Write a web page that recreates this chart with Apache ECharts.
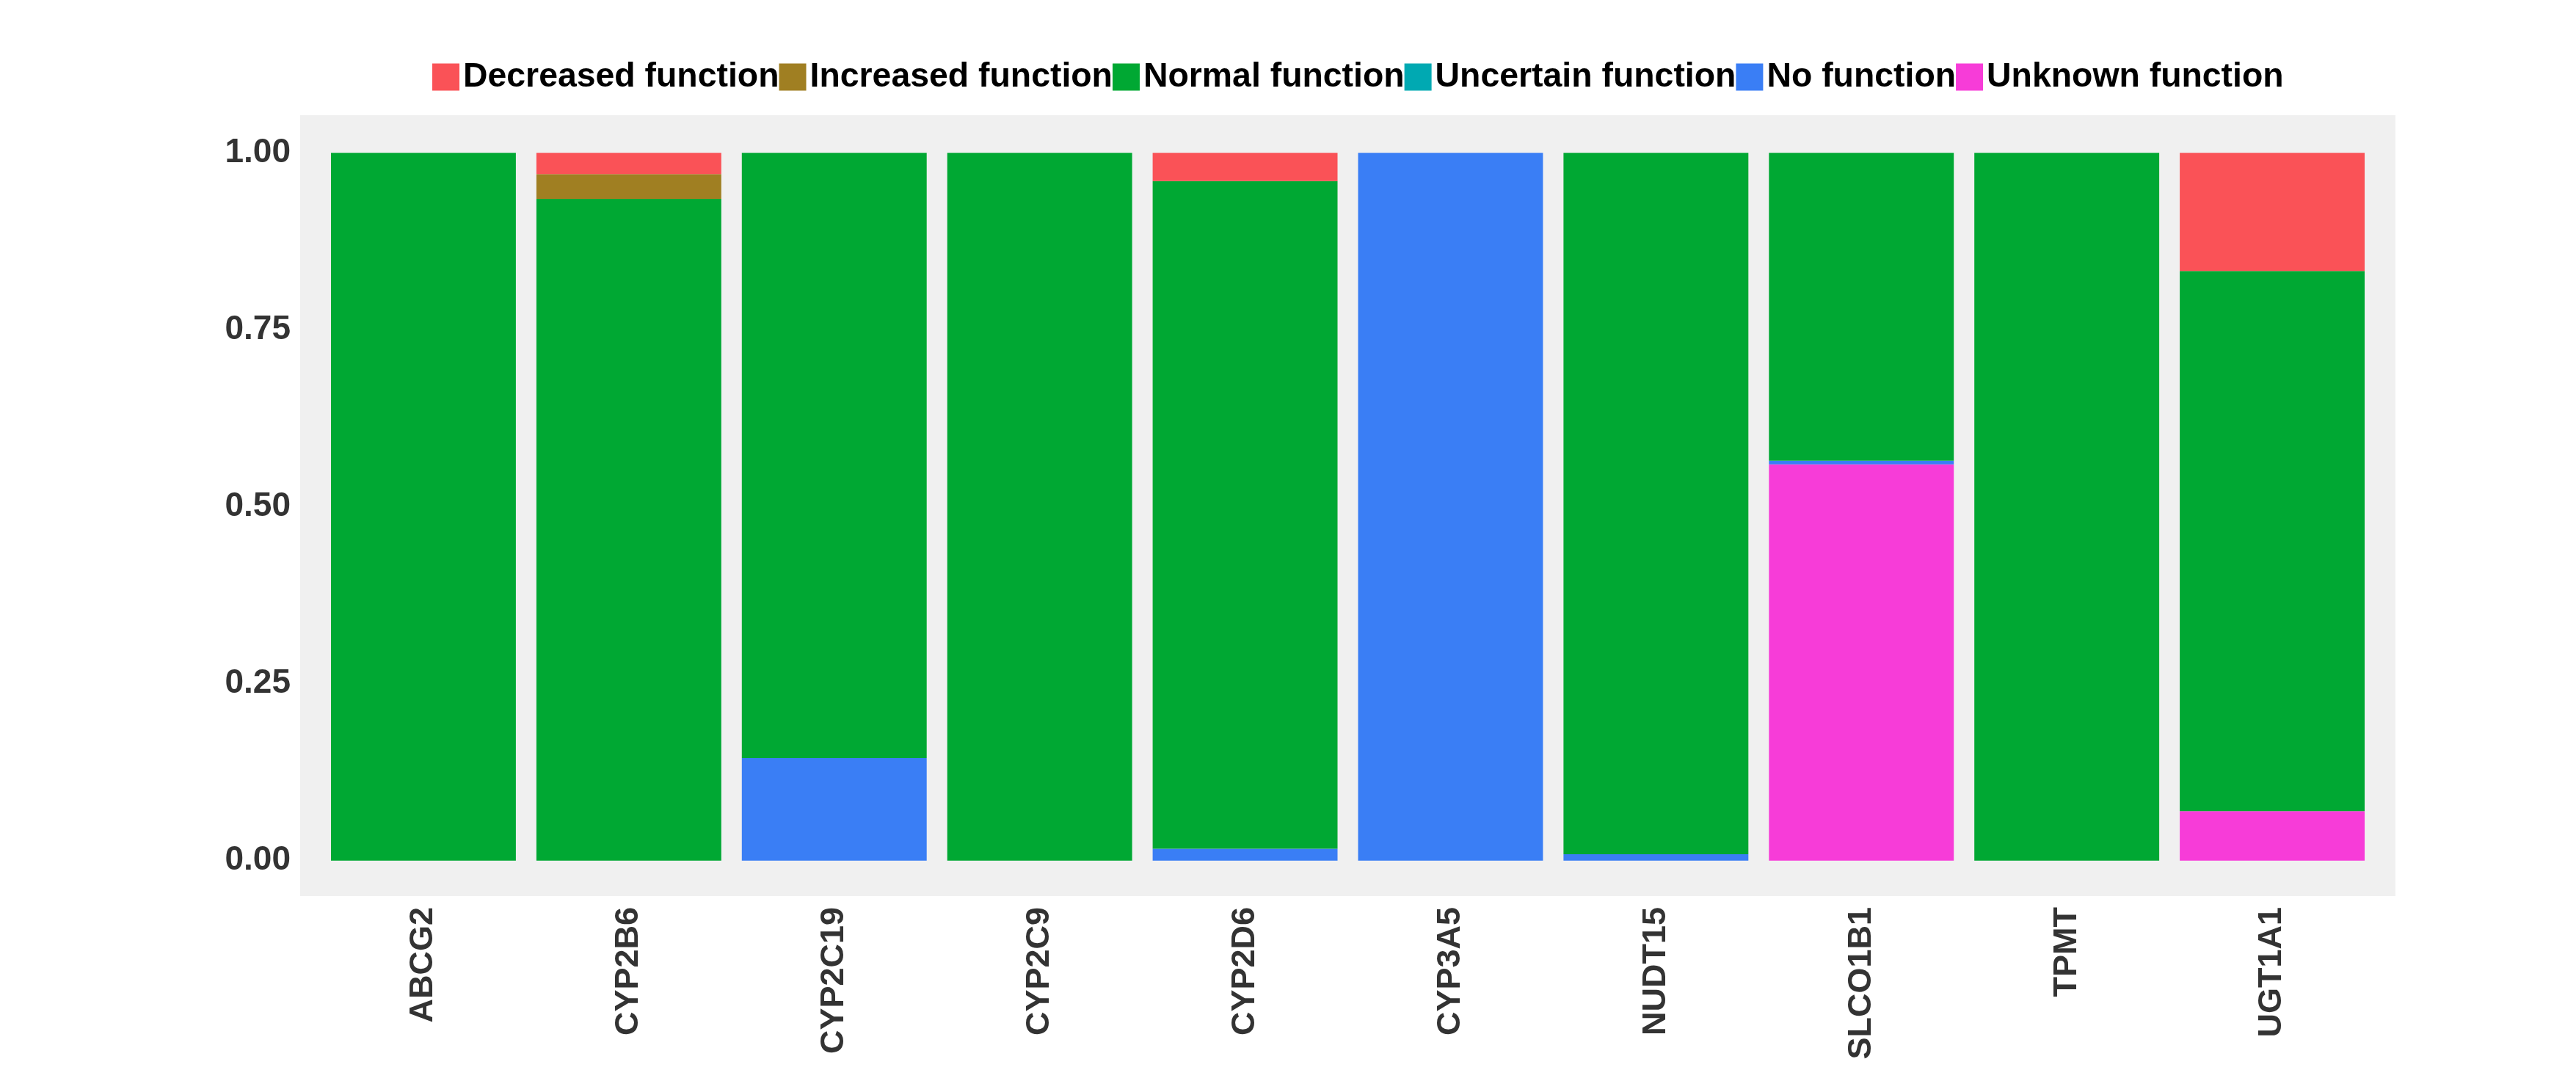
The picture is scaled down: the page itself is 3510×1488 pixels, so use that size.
<!DOCTYPE html>
<html>
<head>
<meta charset="utf-8">
<script src="https://cdn.jsdelivr.net/npm/echarts@6/dist/echarts.min.js"></script>
<style>
  html, body { margin: 0; padding: 0; background: #fff; }
  #chart { width: 3510px; height: 1488px; }
</style>
</head>
<body>
<div id="chart"></div>
<script>
(function() {
  var genes = ['ABCG2', 'CYP2B6', 'CYP2C19', 'CYP2C9', 'CYP2D6', 'CYP3A5', 'NUDT15', 'SLCO1B1', 'TPMT', 'UGT1A1'];
  var decreased  = [0, 0.030, 0, 0, 0.040, 0, 0, 0, 0, 0.167];
  var increased  = [0, 0.035, 0, 0, 0, 0, 0, 0, 0, 0];
  var normal     = [1, 0.935, 0.855, 1, 0.943, 0, 0.991, 0.435, 1, 0.763];
  var uncertain  = [0, 0, 0, 0, 0, 0, 0, 0, 0, 0];
  var noFunction = [0, 0, 0.145, 0, 0.017, 1, 0.009, 0.005, 0, 0];
  var unknown    = [0, 0, 0, 0, 0, 0, 0, 0.560, 0, 0.070];
  var yTicks = [0, 0.25, 0.5, 0.75, 1];

  var font = '"Liberation Sans", Arial, sans-serif';
  var ink = '#333333';

  // bottom to top, as stacked in the picture
  var layers = [
    { name: 'Unknown function', data: unknown, color: '#F73CD8' },
    { name: 'No function', data: noFunction, color: '#3A7EF5' },
    { name: 'Uncertain function', data: uncertain, color: '#00A9B2' },
    { name: 'Normal function', data: normal, color: '#00A833' },
    { name: 'Increased function', data: increased, color: '#A07F22' },
    { name: 'Decreased function', data: decreased, color: '#FA5257' }
  ];

  var chart = echarts.init(document.getElementById('chart'), null, { renderer: 'canvas' });
  chart.setOption({
    animation: false,
    backgroundColor: '#ffffff',
    graphic: [{
      type: 'rect',
      z: -10,
      shape: { x: 409, y: 157, width: 2855, height: 1064 },
      style: { fill: '#F0F0F0' }
    }],
    legend: {
      data: ['Decreased function', 'Increased function', 'Normal function', 'Uncertain function', 'No function', 'Unknown function'],
      left: 584,
      top: 77,
      itemWidth: 37,
      itemHeight: 37,
      itemGap: 0,
      icon: 'rect',
      textStyle: { fontFamily: font, fontWeight: 'bold', fontSize: 46.4, color: '#000' }
    },
    grid: { left: 437, width: 2799, top: 160, height: 1061 },
    xAxis: {
      type: 'category',
      data: genes,
      axisLine: { show: false },
      axisTick: { show: false },
      axisLabel: { rotate: 90, margin: 15, fontFamily: font, fontWeight: 'bold', fontSize: 45, color: ink }
    },
    yAxis: {
      type: 'value',
      min: -0.05,
      max: 1.05,
      splitLine: { show: false },
      axisLine: { show: false },
      axisTick: { show: false },
      axisLabel: {
        customValues: yTicks,
        margin: 41,
        fontFamily: font, fontWeight: 'bold', fontSize: 46, color: ink,
        formatter: function(v) { return v.toFixed(2); }
      }
    },
    series: layers.map(function(l) {
      return {
        name: l.name,
        type: 'bar',
        stack: 'total',
        barWidth: '90%',
        data: l.data,
        itemStyle: { color: l.color }
      };
    })
  });
})();
</script>
</body>
</html>
